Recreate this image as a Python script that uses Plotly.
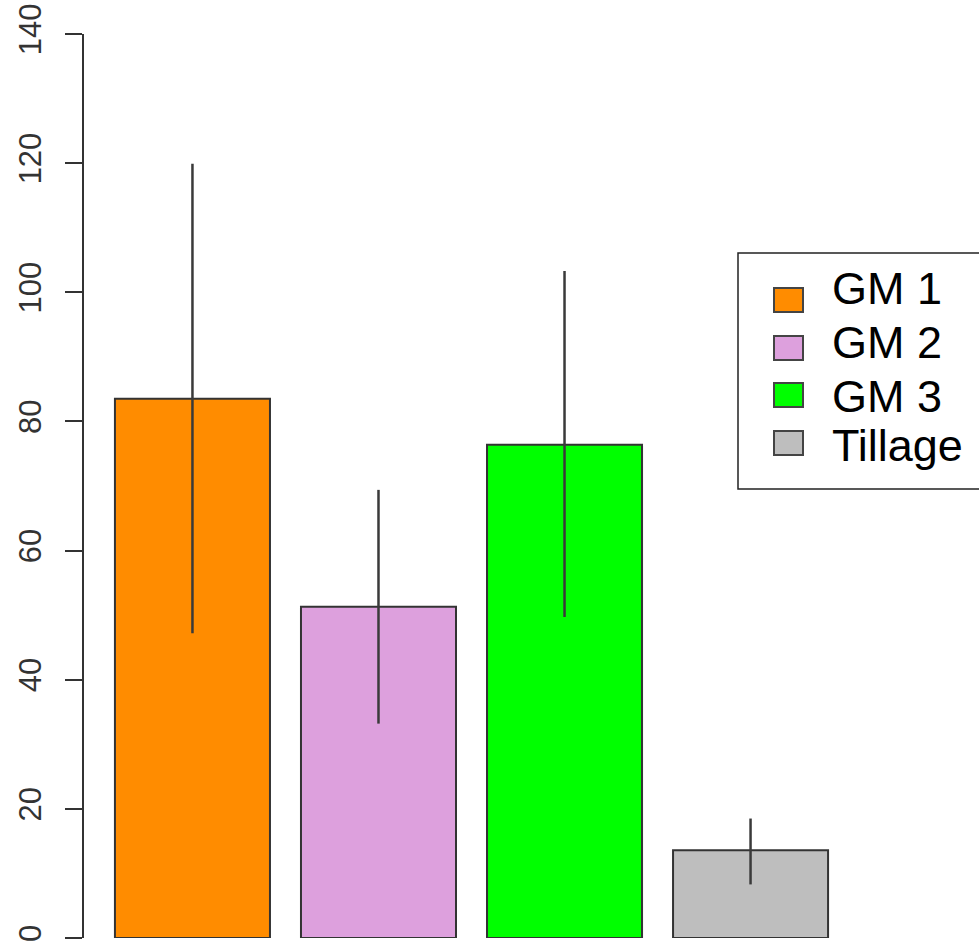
import plotly.graph_objects as go

categories = ["GM 1", "GM 2", "GM 3", "Tillage"]
means = [83.5, 51.3, 76.4, 13.6]
upper = [119.9, 69.4, 103.3, 18.5]
lower = [47.2, 33.2, 49.7, 8.3]
colors = ["#FF8C00", "#DDA0DD", "#00FF00", "#BEBEBE"]
y_ticks = [0, 20, 40, 60, 80, 100, 120, 140]

W, H = 979, 949
L, R, T, B = 84, 0, 34, 11
PW, PH = W - L - R, H - T - B


def px2x(px):
    return (px - L) / PW


def py2y(py):
    return (H - B - py) / PH


fig = go.Figure()
fig.add_trace(go.Bar(
    x=categories,
    y=means,
    marker=dict(color=colors, line=dict(color="#333333", width=2)),
    error_y=dict(
        type="data", symmetric=False,
        array=[u - m for u, m in zip(upper, means)],
        arrayminus=[m - lo for m, lo in zip(means, lower)],
        width=0, thickness=2.5, color="#3a3a3a",
    ),
    showlegend=False,
    hoverinfo="skip",
))

# manual legend (box, swatches, labels)
shapes = [dict(type="rect", xref="paper", yref="paper",
               x0=px2x(738), x1=px2x(1000), y0=py2y(489), y1=py2y(253),
               line=dict(color="#222222", width=1.5), fillcolor="white", layer="below")]
annotations = []
swatch_y = [300, 348, 395, 443]
text_y = [288, 342, 396, 445]
for i, (cat, col) in enumerate(zip(categories, colors)):
    cy = swatch_y[i]
    shapes.append(dict(type="rect", xref="paper", yref="paper",
                       x0=px2x(774), x1=px2x(803), y0=py2y(cy + 12), y1=py2y(cy - 12),
                       line=dict(color="#444444", width=2), fillcolor=col))
    annotations.append(dict(text=cat, xref="paper", yref="paper",
                            x=px2x(830), y=py2y(text_y[i]), xanchor="left", yanchor="middle",
                            showarrow=False,
                            font=dict(family="Liberation Sans, Arial", size=45, color="#000000")))

fig.update_layout(
    width=W, height=H,
    margin=dict(l=L, r=R, t=T, b=B, autoexpand=False),
    plot_bgcolor="white", paper_bgcolor="white",
    bargap=0.2 / 1.2,
    shapes=shapes,
    annotations=annotations,
    xaxis=dict(range=[-0.583, 4.228], showticklabels=False, showline=False,
               showgrid=False, zeroline=False, ticks=""),
    yaxis=dict(range=[0, 140], tickvals=y_ticks, ticktext=[str(v) for v in y_ticks],
               showline=True, linecolor="#333333", linewidth=2,
               ticks="outside", ticklen=17, tickwidth=2, tickcolor="#333333",
               tickangle=-90, ticklabelstandoff=12, ticklabeloverflow="allow",
               tickfont=dict(family="Liberation Sans, Arial", size=31, color="#333333"),
               showgrid=False, zeroline=False),
)

fig.write_html("out.html",
               config={"displayModeBar": False},
               post_script="document.body.style.margin='0';document.body.style.padding='0';")
